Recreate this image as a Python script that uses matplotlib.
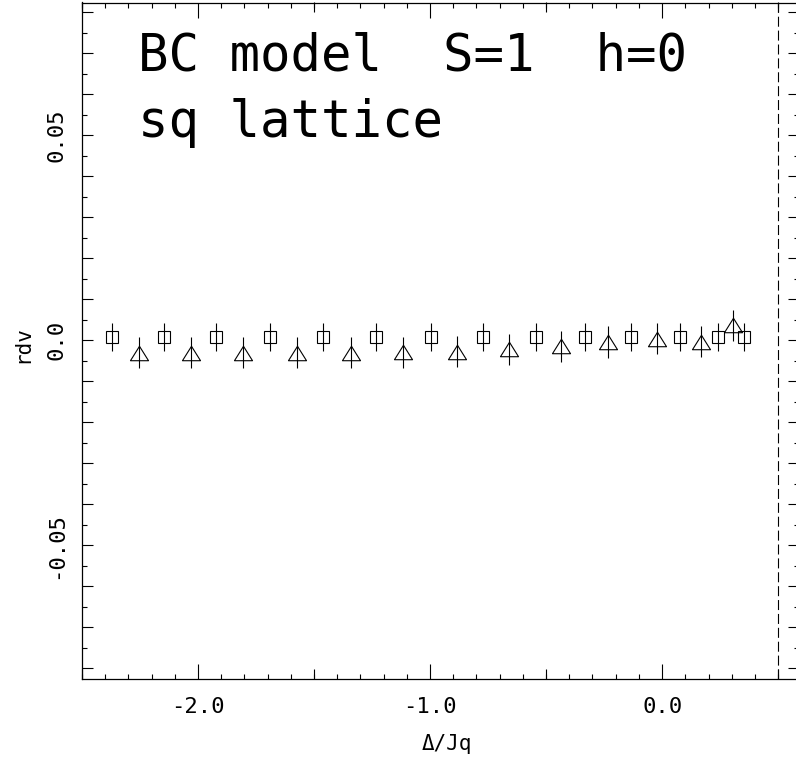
import matplotlib
matplotlib.use("Agg")
import matplotlib.pyplot as plt
from matplotlib.ticker import MultipleLocator, FuncFormatter, NullLocator

# squares (upper series)
sq_x = [-2.370, -2.148, -1.921, -1.691, -1.461, -1.231, -0.998,
        -0.771, -0.545, -0.333, -0.135, 0.076, 0.243, 0.355]
sq_y = [0.0008, 0.0008, 0.0008, 0.0008, 0.0008, 0.0008, 0.0008,
        0.0008, 0.0008, 0.0008, 0.0008, 0.0008, 0.0008, 0.0008]
sq_err = [0.0034] * len(sq_x)

# triangles (lower series)
tri_x = [-2.255, -2.031, -1.805, -1.575, -1.342, -1.115, -0.882,
         -0.658, -0.437, -0.231, -0.024, 0.167, 0.305]
tri_y = [-0.0030, -0.0030, -0.0030, -0.0030, -0.0030, -0.0029, -0.0028,
         -0.0022, -0.0014, -0.0004, 0.0004, -0.0003, 0.0037]
tri_err = [0.0038] * len(tri_x)

x_limit = 0.5
title_lines = ["BC model  S=1  h=0", "sq lattice"]
x_label = "Δ/Jq"
y_label = "rdv"

mono = "DejaVu Sans Mono"
W, H = 796, 763

fig = plt.figure(figsize=(W / 100, H / 100), dpi=100)
ax = fig.add_axes([82 / W, 84 / H, 717 / W, 676.5 / H])

tri_marker = [(0, 0.8), (-1, -0.8), (1, -0.8), (0, 0.8)]

ax.errorbar(sq_x, sq_y, yerr=sq_err, fmt='s', ms=8.8, mfc='none', mec='k',
            mew=0.8, ecolor='k', elinewidth=0.8, capsize=0)
ax.errorbar(tri_x, tri_y, yerr=tri_err, fmt='none', ecolor='k',
            elinewidth=0.8, capsize=0)
ax.plot(tri_x, tri_y, linestyle='none', marker=tri_marker, ms=13,
        mfc='none', mec='k', mew=0.8)

ax.axvline(x_limit, color='k', lw=0.8, linestyle=(0, (9, 3.5)))

ax.set_xlim(-2.5, 0.59)
ax.set_ylim(-0.0826, 0.0824)

for s in ax.spines.values():
    s.set_linewidth(0.9)
ax.spines['right'].set_visible(False)

# x ticks: long at 1.0, medium at 0.5 (secondary), short at 0.1
ax.xaxis.set_major_locator(MultipleLocator(1.0))
ax.xaxis.set_minor_locator(MultipleLocator(0.1))
ax.xaxis.set_major_formatter(FuncFormatter(
    lambda v, p: "0.0" if abs(v) < 1e-9 else f"{v:.1f}"))
ax.tick_params(axis='x', which='major', direction='in', length=10.5,
               width=0.8, top=True, bottom=True, labelsize=16, pad=13)
ax.tick_params(axis='x', which='minor', direction='in', length=3.5,
               width=0.8, top=True, bottom=True)

for side in ['bottom', 'top']:
    sec = ax.secondary_xaxis(side)
    sec.set_xticks([-2.5, -1.5, -0.5, 0.5])
    sec.xaxis.set_minor_locator(NullLocator())
    sec.tick_params(direction='in', length=7.2, width=0.8,
                    labelbottom=False, labeltop=False)
    for s in sec.spines.values():
        s.set_visible(False)


def yfmt(v, pos):
    if abs(round(v / 0.05) * 0.05 - v) > 1e-9:
        return ""
    if abs(v) < 1e-9:
        return "0.0"
    return f"{v:.2f}"


ax.yaxis.set_major_locator(MultipleLocator(0.01))
ax.yaxis.set_minor_locator(MultipleLocator(0.005))
ax.yaxis.set_major_formatter(FuncFormatter(yfmt))
ax.tick_params(axis='y', which='major', direction='in', length=8,
               width=0.8, left=True, right=True, labelsize=16, pad=11.5,
               labelrotation=90)
ax.tick_params(axis='y', which='minor', direction='in', length=3.6,
               width=0.8, left=True, right=True)
for lab in ax.get_xticklabels() + ax.get_yticklabels():
    lab.set_family(mono)
for lab in ax.get_yticklabels():
    lab.set_va('center')

ax.set_xlabel(x_label, fontsize=15, family=mono)
ax.xaxis.set_label_coords(0.509, -0.081)
ax.set_ylabel(y_label, fontsize=15, family=mono)
ax.yaxis.set_label_coords(-0.0695, 0.4945)

ax.text(0.078, 0.8996, title_lines[0], transform=ax.transAxes,
        fontsize=36.5, family=mono, va='baseline', ha='left')
ax.text(0.078, 0.8012, title_lines[1], transform=ax.transAxes,
        fontsize=36.5, family=mono, va='baseline', ha='left')

fig.savefig("out.png", dpi=100)
